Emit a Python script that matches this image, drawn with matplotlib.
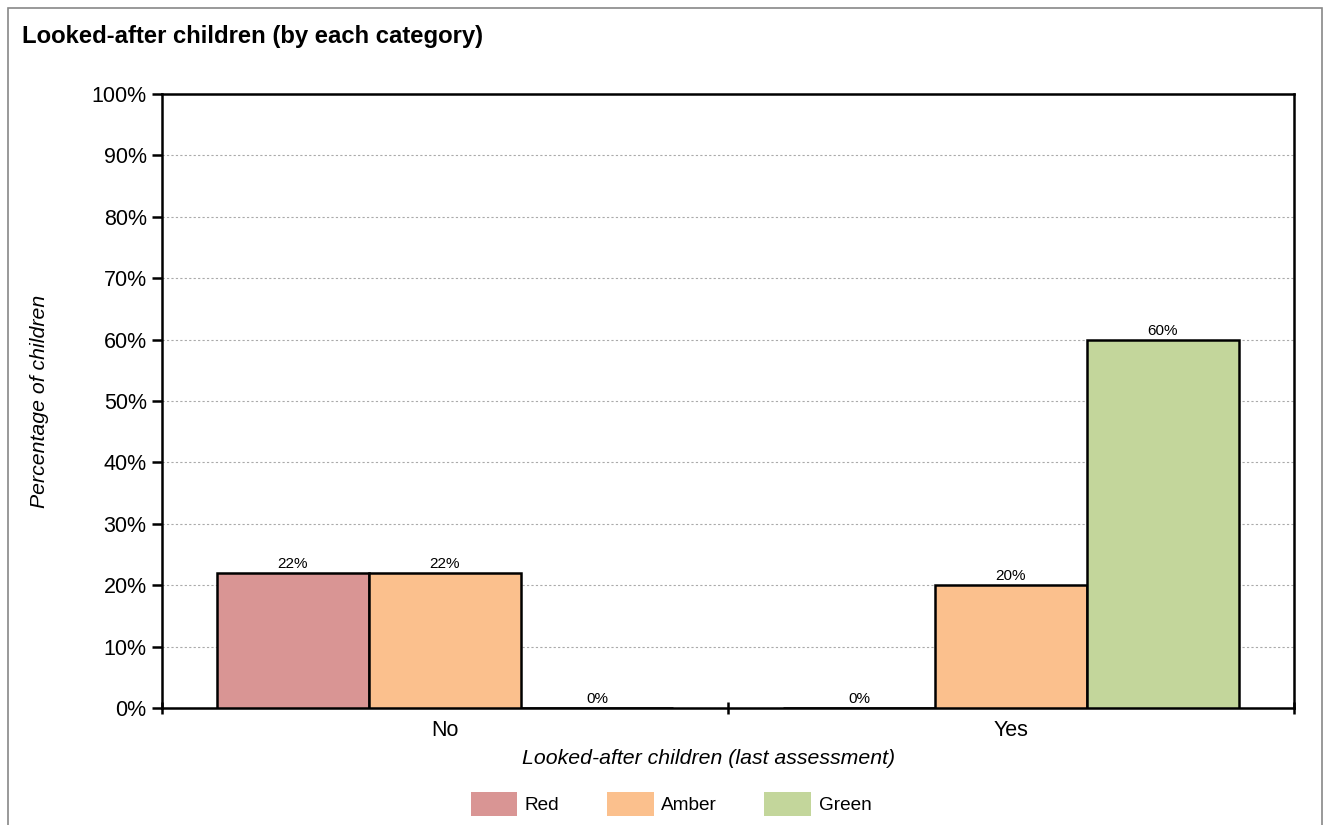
import matplotlib
matplotlib.use("Agg")
import matplotlib.pyplot as plt
from matplotlib.patches import Rectangle, Patch
import numpy as np

plt.rcParams['font.family'] = ['Liberation Sans', 'DejaVu Sans']

categories = ["No", "Yes"]
series_names = ["Red", "Amber", "Green"]
red_vals = [22, 0]
amber_vals = [22, 20]
green_vals = [0, 60]
colors = ["#d99594", "#fbc08d", "#c3d69b"]
yticks = [0, 10, 20, 30, 40, 50, 60, 70, 80, 90, 100]

fig = plt.figure(figsize=(13.3, 8.25), dpi=100)
fig.patches.append(Rectangle((8/1330, -0.1), 1314/1330, 1 - 8/825 + 0.1,
                             transform=fig.transFigure, fill=False,
                             edgecolor="#888888", linewidth=1.2, clip_on=False))
fig.text(22/1330, 1 - 37/825, "Looked-after children (by each category)",
         fontsize=17.2, fontweight="bold", va="center", ha="left")

ax = fig.add_axes([162/1330, 1 - 708/825, 1132/1330, 614/825])
x = np.arange(len(categories))
w = 152/566
all_vals = [red_vals, amber_vals, green_vals]
for i, (vals, c) in enumerate(zip(all_vals, colors)):
    xs = x + (i - 1) * w
    ax.bar(xs, vals, width=w, color=c, edgecolor="black", linewidth=1.8, zorder=3,
           label=series_names[i])
    for xi, v in zip(xs, vals):
        ax.text(xi, v + 0.3, f"{v}%", ha="center", va="bottom", fontsize=11, zorder=4)

ax.set_xlim(-0.5, 1.5)
ax.set_ylim(0, 100)
ax.set_yticks(yticks)
ax.set_yticklabels([f"{t}%" for t in yticks], fontsize=15.5)
ax.yaxis.grid(True, linestyle=(0, (2, 2)), color="#aaaaaa", linewidth=0.8, zorder=0)
ax.set_axisbelow(True)
ax.set_xticks(x)
ax.set_xticklabels(categories, fontsize=15.5)
ax.tick_params(axis="x", length=0, pad=9)
ax.set_xticks([-0.5, 0.5, 1.5], minor=True)
ax.tick_params(axis="x", which="minor", length=8, width=1.8, direction="inout")
ax.tick_params(axis="y", length=7, width=1.8, direction="out", pad=4)
for s in ax.spines.values():
    s.set_linewidth(1.8)
    s.set_color("black")
ax.set_xlabel("Looked-after children (last assessment)", fontsize=15.3, style="italic",
              va="center")
ax.xaxis.set_label_coords((709 - 162) / 1132, -50 / 614)
ax.set_ylabel("Percentage of children", fontsize=15.3, style="italic", va="center")
ax.yaxis.set_label_coords((40 - 162) / 1132, (708 - 401) / 614)

handles = [Patch(facecolor=c, edgecolor="none") for c in colors]
fig.legend(handles, series_names, loc="center", bbox_to_anchor=(671/1330, 21/825),
           ncol=3, frameon=False, fontsize=13.7, handlelength=2.45, handleheight=1.6,
           handletextpad=0.4, columnspacing=2.49)

fig.savefig("out.png", dpi=100)
